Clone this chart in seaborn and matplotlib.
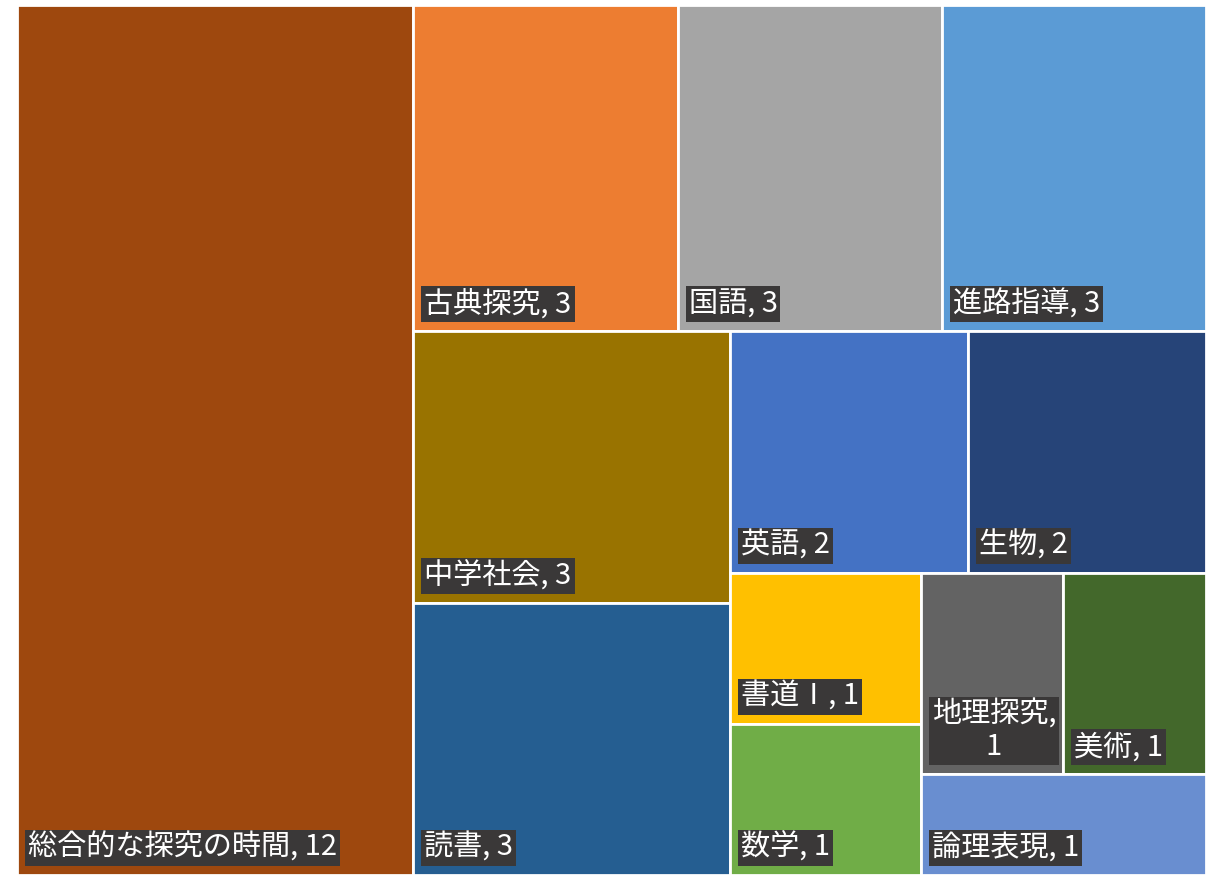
import matplotlib
matplotlib.use("Agg")
import matplotlib.pyplot as plt
import seaborn as sns

# Subjects and how many times each appears
subjects = ["総合的な探究の時間", "古典探究", "国語", "進路指導", "中学社会", "読書",
            "英語", "生物", "書道Ⅰ", "数学", "地理探究", "美術", "論理表現"]
counts = [12, 3, 3, 3, 3, 3, 2, 2, 1, 1, 1, 1, 1]
tile_colors = ["#9E480E", "#ED7D31", "#A5A5A5", "#5B9BD5", "#997300", "#255E91",
               "#4472C4", "#264478", "#FFC000", "#70AD47", "#636363", "#43682B",
               "#698ED0"]

sns.set_theme(style="white")
plt.rcParams["font.family"] = ["Noto Sans CJK JP", "DejaVu Sans"]


def worst_ratio(row, side):
    s = sum(row)
    return max(max(side * side * r / (s * s), s * s / (side * side * r)) for r in row)


def squarify(areas, x, y, w, h):
    """Squarified treemap layout; y grows downward."""
    rects = []
    areas = list(areas)
    while areas:
        side = min(w, h)
        row = [areas[0]]
        i = 1
        while i < len(areas) and worst_ratio(row + [areas[i]], side) <= worst_ratio(row, side):
            row.append(areas[i])
            i += 1
        areas = areas[i:]
        s = sum(row)
        if w >= h:
            cw = s / h
            yy = y
            for a in row:
                rh = a / cw
                rects.append((x, yy, cw, rh))
                yy += rh
            x += cw
            w -= cw
        else:
            rh = s / w
            xx = x
            for a in row:
                rw = a / rh
                rects.append((xx, y, rw, rh))
                xx += rw
            y += rh
            h -= rh
    return rects


FIG_W, FIG_H = 1216, 875
left_px, top_px, right_px = 17, 5, 1206
W = right_px - left_px
H = FIG_H - top_px

fig = plt.figure(figsize=(FIG_W / 100, FIG_H / 100), dpi=100)
fig.patch.set_facecolor("white")
ax = fig.add_axes([left_px / FIG_W, 0, W / FIG_W, H / FIG_H])
ax.set_xlim(0, W)
ax.set_ylim(H, 0)
ax.axis("off")

total = sum(counts)
areas = [c / total * W * H for c in counts]
rects = squarify(areas, 0, 0, W, H)

xs = [r[0] for r in rects]
ys = [r[1] for r in rects]
ws = [r[2] for r in rects]
hs = [r[3] for r in rects]

ax.bar(xs, hs, width=ws, bottom=ys, align="edge", color=tile_colors,
       edgecolor="white", linewidth=2)

fig.canvas.draw()
renderer = fig.canvas.get_renderer()

for name, cnt, (x, y, w, h) in zip(subjects, counts, rects):
    label = f"{name}, {cnt}"
    t = ax.text(x + 11, y + h - 12, label, color="white", fontsize=21,
                ha="left", va="bottom", multialignment="center",
                bbox=dict(boxstyle="square,pad=0.1", fc="#3A3838", ec="none"))
    width_px = t.get_window_extent(renderer).width
    if width_px > w - 20:
        t.set_text(f"{name},\n{cnt}")
        t.set_linespacing(1.1)

fig.savefig("out.png", dpi=100, facecolor="white")
